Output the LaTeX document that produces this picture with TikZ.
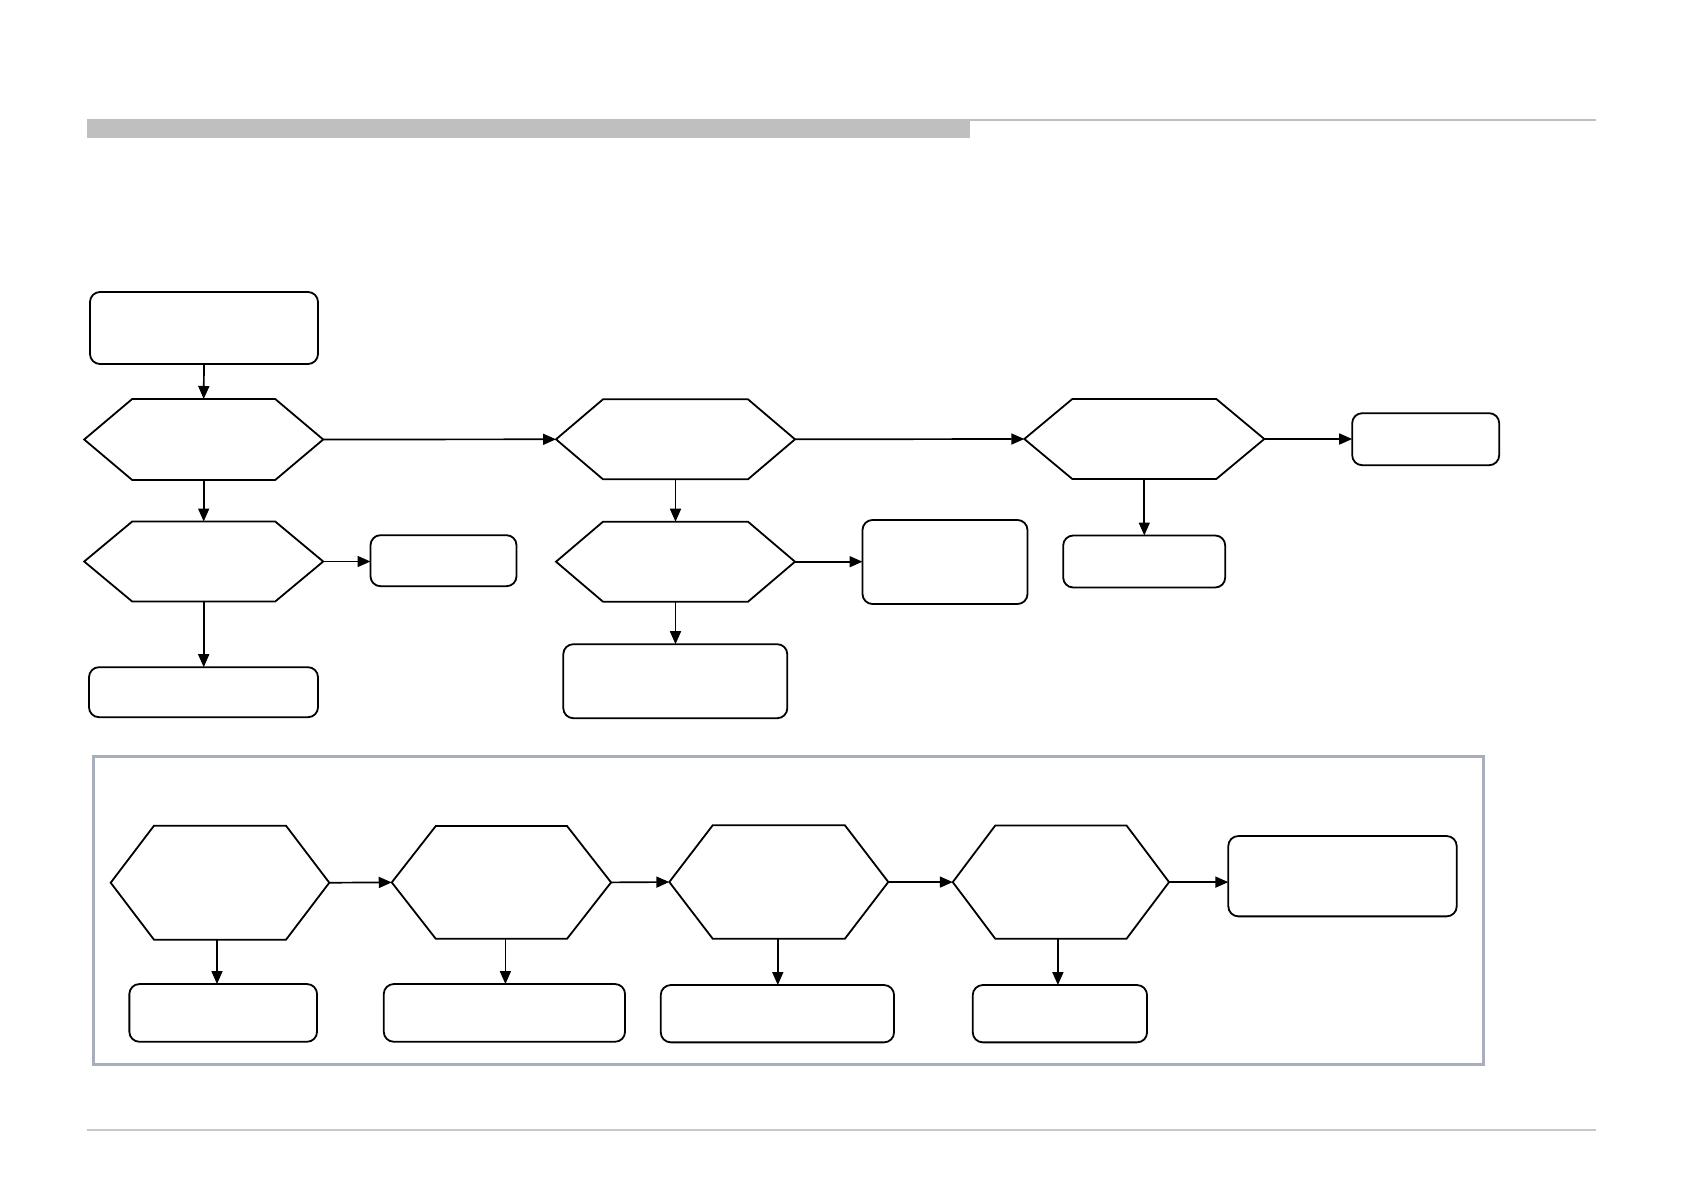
\documentclass[tikz,border=0pt]{standalone}
\usetikzlibrary{arrows.meta}
\definecolor{headgray}{RGB}{191,191,191}
\definecolor{rulegray}{RGB}{200,200,200}
\definecolor{framegray}{RGB}{166,175,187}
\tikzset{
  shapeline/.style={draw=black, line width=1.8pt, line join=miter},
  hexcore/.style={draw=none, inner sep=0pt, outer sep=0pt, rectangle},
  rbox/.style={draw=black, line width=1.8pt, rounded corners=10pt, inner sep=0pt, outer sep=0pt, rectangle},
  arr/.style={draw=black, line width=1.7pt, -{Triangle[length=13pt,width=11pt]}},
}
\newcommand\myhex[6]{%
  \node[hexcore, minimum width=#4pt, minimum height=#5pt] (#1) at (#2,#3) {};
  \draw[shapeline] (#1.west) -- ([xshift=#6pt]#1.north west) -- ([xshift=-#6pt]#1.north east) -- (#1.east) -- ([xshift=-#6pt]#1.south east) -- ([xshift=#6pt]#1.south west) -- cycle;}
\newcommand\mybox[5]{%
  \node[rbox, minimum width=#4pt, minimum height=#5pt] (#1) at (#2,#3) {};}
\begin{document}
\begin{tikzpicture}[x=1pt,y=-1pt]
\useasboundingbox (0,0) rectangle (1684,1191);
% header
\fill[headgray] (87,119) rectangle (970,137.5);
\draw[headgray, line width=2pt] (970,120) -- (1596,120);
% footer rule
\draw[rulegray, line width=1.5pt] (87,1130) -- (1596,1130);

% top flow
\mybox{s}{204}{328}{228}{72}
\myhex{h1}{203.7}{439.5}{239}{81}{48}
\myhex{h2}{203.7}{561.5}{239}{80}{48}
\mybox{r2}{443.5}{560.7}{146}{51}
\mybox{d2}{203.5}{692.2}{229}{50}
\myhex{h3}{675.5}{439.3}{239}{80}{47}
\myhex{h4}{675.5}{561.7}{239}{80}{47}
\mybox{r4}{945}{562}{165}{84}
\mybox{d4}{675.3}{681.2}{224}{74}
\myhex{h5}{1144.3}{439}{240}{80}{48}
\mybox{r5}{1425.7}{439.2}{147}{52}
\mybox{d5}{1144.2}{561.5}{162}{52}

\draw[arr] (s.south) -- (h1.north);
\draw[arr] (h1.south) -- (h2.north);
\draw[arr] (h2.east) -- (h2.east -| r2.west);
\draw[arr] (h2.south) -- (h2.south |- d2.north);
\draw[arr] (h1.east) -- (h3.west);
\draw[arr] (h3.south) -- (h4.north);
\draw[arr] (h4.east) -- (h4.east -| r4.west);
\draw[arr] (h4.south) -- (h4.south |- d4.north);
\draw[arr] (h3.east) -- (h5.west);
\draw[arr] (h5.east) -- (h5.east -| r5.west);
\draw[arr] (h5.south) -- (h5.south |- d5.north);

% bottom frame
\draw[framegray, line width=3pt] (93,756) rectangle (1483,1064);
\myhex{b1}{220}{882.7}{218.6}{114}{43.3}
\mybox{e1}{223.2}{1012.9}{187.7}{57.7}
\myhex{b2}{501.4}{882.4}{219.3}{112.7}{44}
\mybox{e2}{504.4}{1012.9}{241.3}{57.7}
\myhex{b3}{778.8}{882}{219}{113.4}{43.4}
\mybox{e3}{777.4}{1013.7}{233.3}{57.3}
\myhex{b4}{1060.9}{882.1}{216.3}{113.2}{42.5}
\mybox{e4}{1059.9}{1013.7}{174.3}{57.3}
\mybox{rb}{1342.5}{876.2}{228.4}{80.3}

\draw[arr] (b1.east) -- (b2.west);
\draw[arr] (b2.east) -- (b3.west);
\draw[arr] (b3.east) -- (b4.west);
\draw[arr] (b4.east) -- (b4.east -| rb.west);
\draw[arr] ([xshift=-3pt]b1.south) -- ([xshift=-3pt]b1.south |- e1.north);
\draw[arr] ([xshift=4pt]b2.south) -- ([xshift=4pt]b2.south |- e2.north);
\draw[arr] ([xshift=-1pt]b3.south) -- ([xshift=-1pt]b3.south |- e3.north);
\draw[arr] ([xshift=-3pt]b4.south) -- ([xshift=-3pt]b4.south |- e4.north);
\end{tikzpicture}
\end{document}
